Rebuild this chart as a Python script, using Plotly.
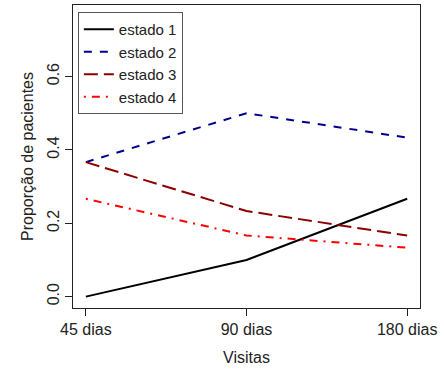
import plotly.graph_objects as go

# Proportion of patients in each state at each visit
visitas = ["45 dias", "90 dias", "180 dias"]
estado_1 = [0.0, 0.1, 0.2667]
estado_2 = [0.3667, 0.5, 0.4333]
estado_3 = [0.3667, 0.2333, 0.1667]
estado_4 = [0.2667, 0.1667, 0.1333]

series = [
    ("estado 1", estado_1, "black", "solid"),
    ("estado 2", estado_2, "#00008B", "8px,8px"),
    ("estado 3", estado_3, "#8B0000", "14px,6px"),
    ("estado 4", estado_4, "red", "2px,6px,8px,6px"),
]

xpos = list(range(1, len(visitas) + 1))

fig = go.Figure()
for nome, vals, cor, traco in series:
    fig.add_trace(go.Scatter(
        x=xpos, y=vals, name=nome, mode="lines",
        line=dict(color=cor, width=2, dash=traco),
    ))

fonte = "Liberation Sans, Arial, sans-serif"

fig.update_layout(
    width=444, height=370,
    margin=dict(l=73, r=24, t=5, b=62),
    paper_bgcolor="white", plot_bgcolor="white",
    font=dict(family=fonte, size=16, color="#222"),
    showlegend=True,
    legend=dict(
        x=0.014, y=0.977, xanchor="left", yanchor="top",
        bordercolor="#555", borderwidth=1, bgcolor="white",
        font=dict(family=fonte, size=15, color="#222"),
        tracegroupgap=0, itemwidth=30,
    ),
    xaxis=dict(
        range=[0.92, 3.08], tickvals=xpos, ticktext=visitas,
        ticks="outside", ticklen=7, tickcolor="#222", tickwidth=1,
        showgrid=False, zeroline=False,
        showline=True, linecolor="#222", linewidth=1, mirror=True,
        title=dict(text="Visitas", standoff=14, font=dict(size=16)),
    ),
    yaxis=dict(
        range=[-0.031, 0.795], tickvals=[0, 0.2, 0.4, 0.6],
        ticktext=["0.0", "0.2", "0.4", "0.6"], tickangle=-90,
        ticks="outside", ticklen=7, tickcolor="#222", tickwidth=1,
        showgrid=False, zeroline=False,
        showline=True, linecolor="#222", linewidth=1, mirror=True,
        title=dict(text="Proporção de pacientes", standoff=6, font=dict(size=16)),
    ),
)

fig.write_html("out.html")
